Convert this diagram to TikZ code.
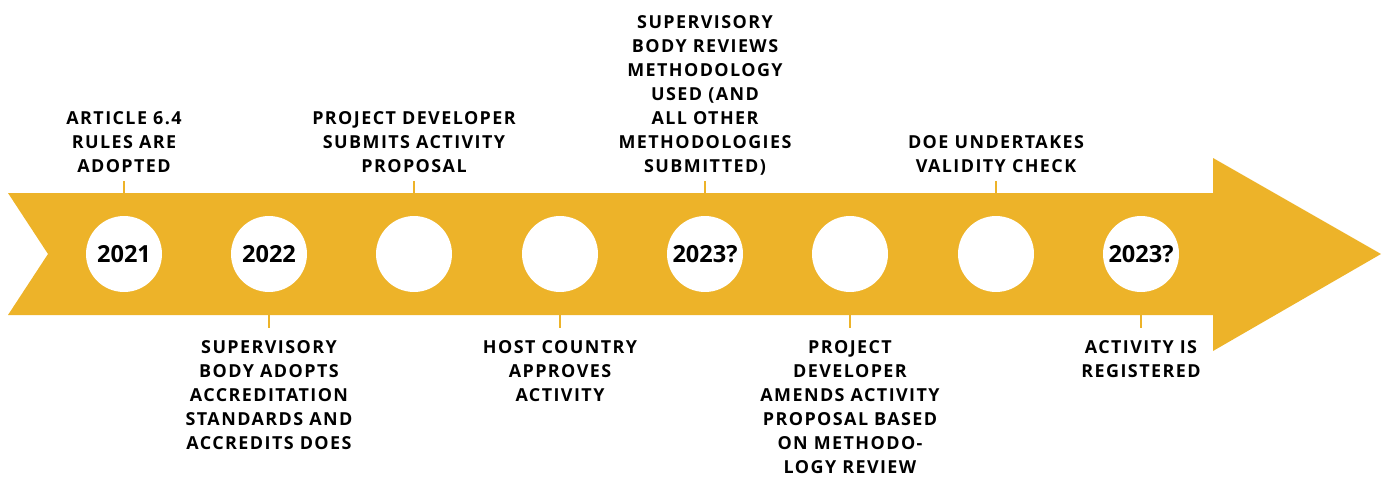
\documentclass[tikz,border=0pt]{standalone}
\usepackage{fontspec}
\setmainfont{Open Sans}
\newfontfamily\stepfont{Open Sans}[LetterSpace=8]
\usetikzlibrary{positioning}
\definecolor{timegold}{RGB}{237,179,41}

\begin{document}
\begin{tikzpicture}[x=0.02cm, y=-0.02cm,
    year/.style={circle, fill=white, minimum size=1.52cm, inner sep=0pt,
        font=\bfseries\fontsize{13.4}{16}\selectfont},
    toplabel/.style={align=center, inner sep=0pt, outer sep=0.18cm, text depth=0pt,
        font=\stepfont\bfseries\fontsize{10.2}{13.65}\selectfont},
    botlabel/.style={align=center, inner sep=0pt, outer sep=0.26cm,
        font=\stepfont\bfseries\fontsize{10.2}{13.65}\selectfont},
    tick/.style={timegold, line width=1.1pt}]
    \useasboundingbox (0,0) rectangle (1389,480);
    % the timeline arrow
    \fill[timegold] (8,193) -- (1213,193) -- (1213,158) -- (1381,254)
        -- (1213,351) -- (1213,315) -- (8,315) -- (48,254) -- cycle;
    % year discs
    \foreach \x/\yr [count=\i] in {124/2021, 269/2022, 414/{}, 560/{},
                                   705/2023?, 850/{}, 996/{}, 1141/2023?}
        \node[year] (c\i) at (\x,254) {\yr};
    \foreach \i in {1,3,5,7} \coordinate (e\i) at (c\i |- 0,193);
    \foreach \i in {2,4,6,8} \coordinate (e\i) at (c\i |- 0,315);
    % steps above the arrow
    \node[toplabel, above=0.24cm of e1] (l1) {ARTICLE 6.4\\RULES ARE\\ADOPTED};
    \node[toplabel, above=0.24cm of e3] (l3) {PROJECT DEVELOPER\\SUBMITS ACTIVITY\\PROPOSAL};
    \node[toplabel, above=0.24cm of e5] (l5) {SUPERVISORY\\BODY REVIEWS\\METHODOLOGY\\USED (AND\\ALL OTHER\\METHODOLOGIES\\SUBMITTED)};
    \node[toplabel, above=0.24cm of e7] (l7) {DOE UNDERTAKES\\VALIDITY CHECK};
    % steps below the arrow
    \node[botlabel, below=0.26cm of e2] (l2) {SUPERVISORY\\BODY ADOPTS\\ACCREDITATION\\STANDARDS AND\\ACCREDITS DOES};
    \node[botlabel, below=0.26cm of e4] (l4) {HOST COUNTRY\\APPROVES\\ACTIVITY};
    \node[botlabel, below=0.26cm of e6] (l6) {PROJECT\\DEVELOPER\\AMENDS ACTIVITY\\PROPOSAL BASED\\ON METHODO-\\LOGY REVIEW};
    \node[botlabel, below=0.26cm of e8] (l8) {ACTIVITY IS\\REGISTERED};
    \foreach \i in {1,...,8} \draw[tick] (e\i) -- (l\i);
\end{tikzpicture}
\end{document}
